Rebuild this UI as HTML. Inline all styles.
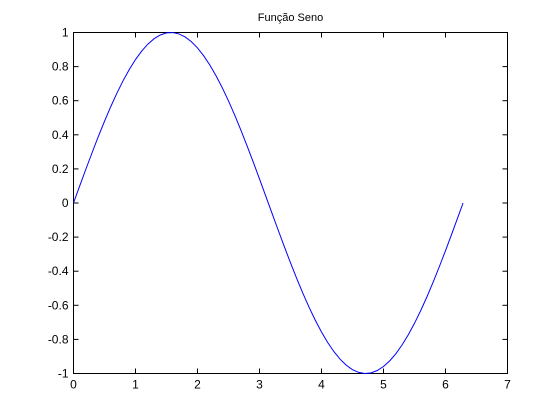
<!DOCTYPE html>
<html><head><meta charset="utf-8"><style>
html,body{margin:0;padding:0;background:#fff;}
svg{display:block;font-family:"Liberation Sans",Arial,sans-serif;}
</style></head><body>
<svg id="chart" width="560" height="420"></svg>
<script>
const xValues=[0,0.1,0.2,0.3,0.4,0.5,0.6,0.7,0.8,0.9,1.0,1.1,1.2,1.3,1.4,1.5,1.6,1.7,1.8,1.9,2.0,2.1,2.2,2.3,2.4,2.5,2.6,2.7,2.8,2.9,3.0,3.1,3.2,3.3,3.4,3.5,3.6,3.7,3.8,3.9,4.0,4.1,4.2,4.3,4.4,4.5,4.6,4.7,4.8,4.9,5.0,5.1,5.2,5.3,5.4,5.5,5.6,5.7,5.8,5.9,6.0,6.1,6.2,6.2832];
const yValues=[0,0.0998,0.1987,0.2955,0.3894,0.4794,0.5646,0.6442,0.7174,0.7833,0.8415,0.8912,0.932,0.9636,0.9854,0.9975,0.9996,0.9917,0.9738,0.9463,0.9093,0.8632,0.8085,0.7457,0.6755,0.5985,0.5155,0.4274,0.335,0.2392,0.1411,0.0416,-0.0584,-0.1577,-0.2555,-0.3508,-0.4425,-0.5298,-0.6119,-0.6878,-0.7568,-0.8183,-0.8716,-0.9162,-0.9516,-0.9775,-0.9937,-0.9999,-0.9962,-0.9825,-0.9589,-0.9258,-0.8835,-0.8323,-0.7728,-0.7055,-0.6313,-0.5507,-0.4646,-0.3739,-0.2794,-0.1822,-0.0831,0];
const xTicks=[0,1,2,3,4,5,6,7];
const yTicks=[-1,-0.8,-0.6,-0.4,-0.2,0,0.2,0.4,0.6,0.8,1];
const yTickLabels=["-1","-0.8","-0.6","-0.4","-0.2","0","0.2","0.4","0.6","0.8","1"];

const L=73.5,R=507.5,T=32.5,B=373.5;
const sx=v=>L+(v-0)/(7-0)*(R-L);
const sy=v=>B-(v+1)/2*(B-T);
const NS="http://www.w3.org/2000/svg";
const svg=document.getElementById('chart');
function mk(tag,attrs,parent){const e=document.createElementNS(NS,tag);for(const k in attrs)e.setAttribute(k,attrs[k]);(parent||svg).appendChild(e);return e;}

const box=mk('rect',{x:L,y:T,width:R-L,height:B-T,fill:'#fff',stroke:'#000','stroke-width':1});



const title=mk('text',{x:(L+R)/2,y:21,'text-anchor':'middle','font-size':11,fill:'#000'});
title.textContent='Função Seno';



xTicks.forEach(t=>{
  const x=sx(t);
  const g=mk('g',{});
  
  
  mk('line',{x1:x,y1:B,x2:x,y2:B-5,stroke:'#000'},g);
  mk('line',{x1:x,y1:T,x2:x,y2:T+5,stroke:'#000'},g);
  const tx=mk('text',{x:x,y:B+15,'text-anchor':'middle','font-size':12,fill:'#000'},g);
  tx.textContent=String(t);
});
yTicks.forEach((t,i)=>{
  const y=sy(t);
  const g=mk('g',{});
  
  
  mk('line',{x1:L,y1:y,x2:L+5,y2:y,stroke:'#000'},g);
  mk('line',{x1:R,y1:y,x2:R-5,y2:y,stroke:'#000'},g);
  const tx=mk('text',{x:L-5,y:y+4,'text-anchor':'end','font-size':12,fill:'#000'},g);
  tx.textContent=yTickLabels[i];
});

const pts=xValues.map((x,i)=>sx(x).toFixed(2)+','+sy(yValues[i]).toFixed(2)).join(' ');
const line=mk('polyline',{points:pts,fill:'none',stroke:'#0000ff','stroke-width':1});


</script>
</body></html>
